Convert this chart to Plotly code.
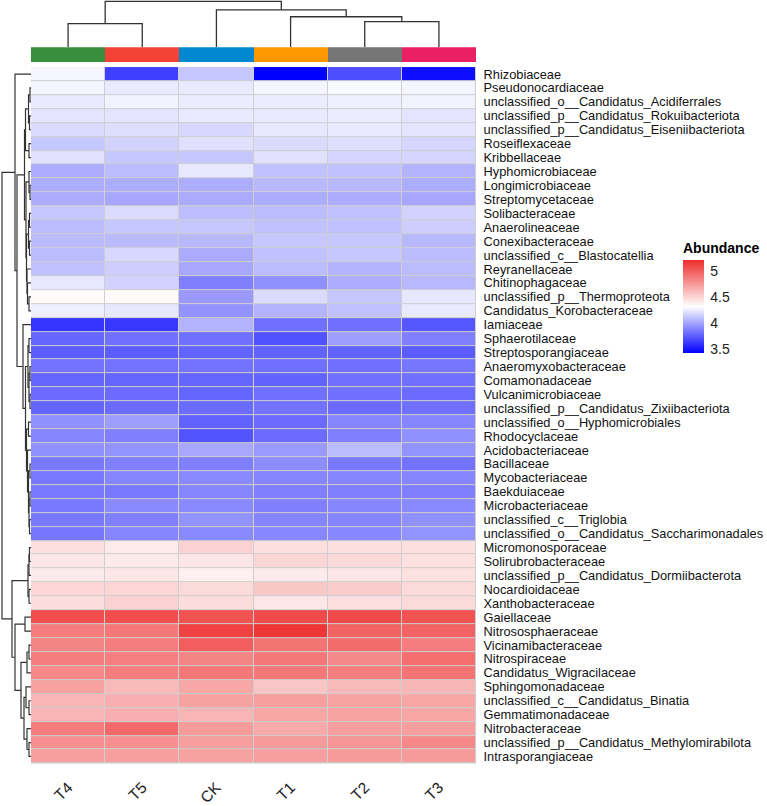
import plotly.graph_objects as go

samples = ["T4", "T5", "CK", "T1", "T2", "T3"]
sample_colors = ["#388E3C", "#F44336", "#0288D1", "#FF9800", "#757575", "#E91E63"]

families = [
    "Rhizobiaceae", "Pseudonocardiaceae", "unclassified_o__Candidatus_Acidiferrales",
    "unclassified_p__Candidatus_Rokuibacteriota", "unclassified_p__Candidatus_Eiseniibacteriota",
    "Roseiflexaceae", "Kribbellaceae", "Hyphomicrobiaceae", "Longimicrobiaceae", "Streptomycetaceae",
    "Solibacteraceae", "Anaerolineaceae", "Conexibacteraceae", "unclassified_c__Blastocatellia",
    "Reyranellaceae", "Chitinophagaceae", "unclassified_p__Thermoproteota", "Candidatus_Korobacteraceae",
    "Iamiaceae", "Sphaerotilaceae", "Streptosporangiaceae", "Anaeromyxobacteraceae", "Comamonadaceae",
    "Vulcanimicrobiaceae", "unclassified_p__Candidatus_Zixiibacteriota", "unclassified_o__Hyphomicrobiales",
    "Rhodocyclaceae", "Acidobacteriaceae", "Bacillaceae", "Mycobacteriaceae", "Baekduiaceae",
    "Microbacteriaceae", "unclassified_c__Triglobia", "unclassified_o__Candidatus_Saccharimonadales",
    "Micromonosporaceae", "Solirubrobacteraceae", "unclassified_p__Candidatus_Dormiibacterota",
    "Nocardioidaceae", "Xanthobacteraceae", "Gaiellaceae", "Nitrososphaeraceae", "Vicinamibacteraceae",
    "Nitrospiraceae", "Candidatus_Wigracilaceae", "Sphingomonadaceae", "unclassified_c__Candidatus_Binatia",
    "Gemmatimonadaceae", "Nitrobacteraceae", "unclassified_p__Candidatus_Methylomirabilota",
    "Intrasporangiaceae",
]

T4 = [4.28,4.28,4.24,4.22,4.19,4.12,4.21,4.03,4.03,4.03,4.12,4.08,4.08,4.08,4.10,4.23,4.34,4.26,3.61,3.78,
      3.75,3.83,3.78,3.80,3.78,3.93,3.89,3.93,3.85,3.85,3.85,3.85,3.85,3.84,4.45,4.42,4.40,4.49,4.46,5.06,
      4.86,4.83,4.86,4.81,4.71,4.63,4.63,4.86,4.78,4.72]
T5 = [3.65,4.24,4.27,4.22,4.20,4.16,4.12,4.08,4.03,4.01,4.19,4.12,4.08,4.18,4.14,4.16,4.33,4.23,3.62,3.82,
      3.75,3.83,3.78,3.80,3.80,3.98,3.87,3.94,3.87,3.89,3.85,3.91,3.87,3.89,4.40,4.40,4.42,4.49,4.51,5.06,
      4.88,4.86,4.85,4.86,4.61,4.65,4.65,4.95,4.78,4.72]
CK = [4.12,4.24,4.25,4.24,4.18,4.21,4.12,4.23,4.03,4.02,4.09,4.12,4.07,4.02,4.01,3.87,3.96,3.94,4.05,3.82,
      3.77,3.83,3.78,3.78,3.80,3.77,3.72,4.01,3.87,3.91,3.89,3.91,3.94,3.91,4.51,4.42,4.38,4.47,4.46,5.04,
      5.11,4.99,4.83,4.88,4.69,4.71,4.63,4.74,4.72,4.71]
T1 = [3.43,4.28,4.25,4.24,4.23,4.19,4.21,4.10,4.07,4.03,4.08,4.10,4.12,4.10,4.08,3.93,4.19,4.05,3.82,3.71,
      3.77,3.82,3.77,3.82,3.83,3.80,3.80,3.96,3.92,3.89,3.87,3.87,3.89,3.90,4.45,4.49,4.40,4.55,4.42,5.07,
      5.16,4.90,4.88,4.88,4.56,4.72,4.69,4.67,4.74,4.72]
T2 = [3.70,4.29,4.26,4.25,4.24,4.20,4.17,4.10,4.07,4.03,4.10,4.10,4.12,4.12,4.05,4.03,4.12,4.10,3.82,3.98,
      3.77,3.82,3.82,3.82,3.80,3.89,3.87,4.08,3.85,3.89,3.87,3.89,3.89,3.90,4.45,4.47,4.42,4.53,4.45,5.08,
      4.97,4.93,4.81,4.85,4.61,4.70,4.70,4.72,4.76,4.74]
T3 = [3.48,4.28,4.27,4.22,4.22,4.17,4.17,4.05,4.03,4.01,4.16,4.14,4.07,4.08,4.08,4.07,4.23,4.24,3.73,3.87,
      3.75,3.84,3.82,3.80,3.82,3.89,3.93,3.94,3.83,3.89,3.87,3.91,3.93,3.94,4.45,4.44,4.44,4.47,4.47,5.04,
      4.97,4.86,4.92,4.90,4.62,4.69,4.69,4.72,4.81,4.74]

# dendrogram merges (scipy-style ids: < n are leaves, >= n are earlier merges), with heights
col_merges = [(0, 1, 24.0), (4, 5, 26.0), (3, 7, 31.0), (2, 8, 38.0), (6, 9, 46.7)]
row_merges = [
    (1, 2, 1.0), (3, 4, 1.5), (50, 51, 2.5), (5, 6, 2.0), (52, 53, 5.5),
    (8, 9, 1.0), (7, 55, 2.0), (10, 11, 1.5), (12, 13, 1.5), (57, 58, 2.5),
    (16, 17, 2.0), (15, 60, 3.5), (14, 61, 4.0), (59, 62, 4.5), (56, 63, 5.0),
    (54, 64, 6.5),
    (19, 20, 2.0), (21, 22, 1.0), (23, 24, 1.0), (67, 68, 2.0), (66, 69, 3.0),
    (25, 26, 2.5), (28, 29, 1.0), (30, 31, 1.0), (32, 33, 1.5), (73, 74, 2.0),
    (72, 75, 2.5), (27, 76, 3.5), (71, 77, 4.5), (70, 78, 5.5), (18, 79, 8.0),
    (65, 80, 14.0), (0, 81, 16.0),
    (34, 35, 1.5), (83, 36, 2.0), (37, 38, 2.0), (84, 85, 3.0),
    (39, 40, 6.0), (41, 42, 2.0), (88, 43, 4.0), (45, 46, 2.0), (44, 90, 5.0),
    (48, 49, 2.0), (47, 92, 4.0), (91, 93, 7.0), (89, 94, 10.0), (87, 95, 16.0),
    (86, 96, 19.0), (82, 97, 29.0),
]


def dendro_lines(merges, n):
    pos = {i: float(i) for i in range(n)}
    hgt = {i: 0.0 for i in range(n)}
    P, H = [], []
    for k, (a, b, h) in enumerate(merges):
        P += [pos[a], pos[a], pos[b], pos[b], None]
        H += [hgt[a], h, h, hgt[b], None]
        pos[n + k] = (pos[a] + pos[b]) / 2
        hgt[n + k] = h
    return P, H


W, Hh = 767, 806
x0, x1 = 31, 476
y0, y1 = 68, 774
FONT = "Arial, Liberation Sans, sans-serif"

columns = [T4, T5, CK, T1, T2, T3]
z = [[columns[j][i] for j in range(6)] for i in range(len(families))]

fig = go.Figure()

fig.add_trace(go.Heatmap(
    z=z, x=list(range(6)), y=list(range(len(families))),
    colorscale=[[0, "#0000FF"], [0.5, "#FFFFFF"], [1, "#EE2C2C"]],
    zmin=3.43, zmax=5.2, xgap=1, ygap=1, hoverinfo="skip",
    colorbar=dict(
        title=dict(text="<b>Abundance</b>", side="top", font=dict(size=14, family=FONT, color="#000")),
        x=683 / W, xanchor="left", y=1 - 358 / Hh, yanchor="bottom",
        lenmode="pixels", len=114, thickness=21, thicknessmode="pixels",
        tickvals=[3.5, 4, 4.5, 5], ticktext=["3.5", "4", "4.5", "5"], ticks="outside", ticklen=4,
        tickcolor="rgba(0,0,0,0)",
        tickfont=dict(size=14, family=FONT, color="#222"), outlinewidth=0, xpad=0, ypad=0,
    ),
))

# annotation bar
fig.add_trace(go.Bar(x=list(range(6)), y=[1] * 6, width=1, marker=dict(color=sample_colors, line=dict(width=0)),
                     xaxis="x2", yaxis="y2", hoverinfo="skip", showlegend=False))

cp, ch = dendro_lines(col_merges, 6)
fig.add_trace(go.Scatter(x=cp, y=ch, mode="lines", line=dict(color="#333333", width=1.3),
                         xaxis="x3", yaxis="y3", hoverinfo="skip", showlegend=False))

rp, rh = dendro_lines(row_merges, len(families))
fig.add_trace(go.Scatter(x=rh, y=rp, mode="lines", line=dict(color="#333333", width=1.2),
                         xaxis="x4", yaxis="y4", hoverinfo="skip", showlegend=False))

hdom = [x0 / W, x1 / W]
vdom = [1 - y1 / Hh, 1 - y0 / Hh]
noax = dict(showgrid=False, zeroline=False, showticklabels=False, showline=False, ticks="")

fig.update_layout(
    width=W, height=Hh, margin=dict(l=0, r=0, t=0, b=0),
    paper_bgcolor="white", plot_bgcolor="white", showlegend=False, bargap=0,
    font=dict(family=FONT, color="#000"),
    xaxis=dict(domain=hdom, range=[-0.5, 5.5], tickvals=list(range(6)), ticktext=samples,
               tickangle=-45, ticks="outside", ticklen=8, tickcolor="rgba(0,0,0,0)",
               tickfont=dict(size=15.5, family=FONT, color="#222"), showgrid=False, zeroline=False, anchor="y"),
    yaxis=dict(domain=vdom, range=[len(families) - 0.5, -0.5], side="right",
               tickvals=list(range(len(families))), ticktext=families, ticks="outside", ticklen=4,
               tickcolor="rgba(0,0,0,0)", tickfont=dict(size=12.8, family=FONT, color="#111"),
               showgrid=False, zeroline=False, anchor="x"),
    xaxis2=dict(domain=hdom, range=[-0.5, 5.5], anchor="y2", **noax),
    yaxis2=dict(domain=[1 - 63 / Hh, 1 - 48 / Hh], range=[0, 1], anchor="x2", **noax),
    xaxis3=dict(domain=hdom, range=[-0.5, 5.5], anchor="y3", **noax),
    yaxis3=dict(domain=[1 - 48 / Hh, 1], range=[0, 48], anchor="x3", **noax),
    xaxis4=dict(domain=[0, x0 / W], range=[31, 0], anchor="y4", **noax),
    yaxis4=dict(domain=vdom, range=[len(families) - 0.5, -0.5], anchor="x4", **noax),
    shapes=[dict(type="rect", xref="x", yref="y", x0=-0.5, x1=5.5, y0=-0.5, y1=len(families) - 0.5,
                 fillcolor="#CFCFCF", line=dict(color="#CFCFCF", width=1), layer="below")],
)

fig.write_html("out.html")
